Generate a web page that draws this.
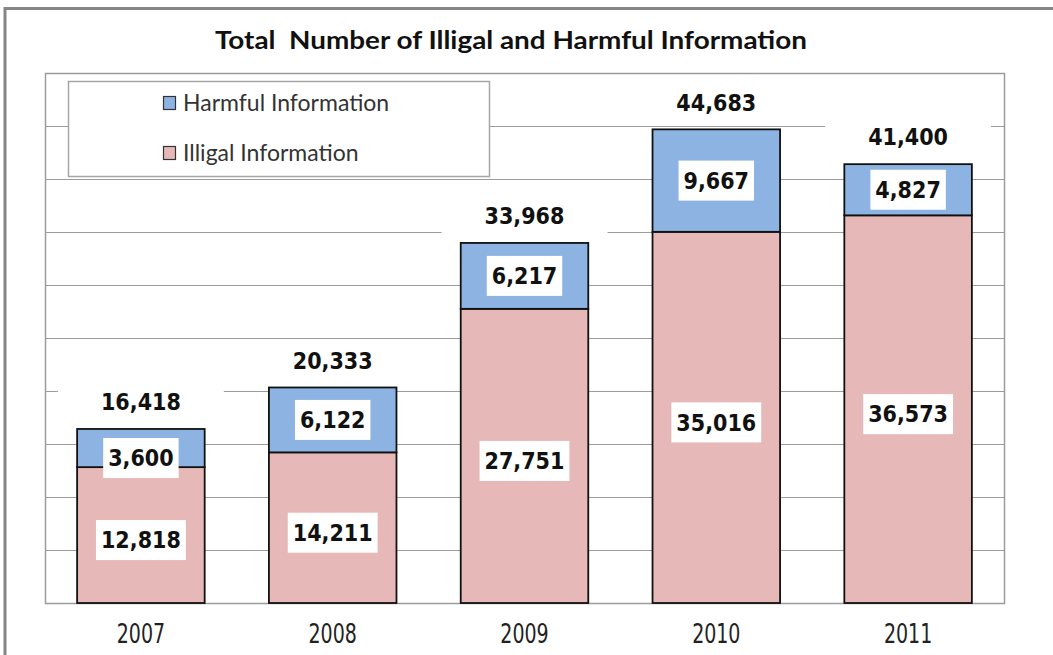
<!DOCTYPE html>
<html>
<head>
<meta charset="utf-8">
<script src="https://cdn.jsdelivr.net/npm/d3@7"></script>
<style>
  body { margin: 0; background: #fff; }
</style>
</head>
<body>
<div id="chart"></div>
<script>
const width = 1053;
const height = 655;

// values
const years = ["2007", "2008", "2009", "2010", "2011"];
const illegal = [12818, 14211, 27751, 35016, 36573];
const harmful = [3600, 6122, 6217, 9667, 4827];
const totals = [16418, 20333, 33968, 44683, 41400];
const seriesNames = ["Harmful Information", "Illigal Information"];
const seriesColors = ["#8db3e2", "#e6b9b8"];
const yTicks = [0, 5000, 10000, 15000, 20000, 25000, 30000, 35000, 40000, 45000, 50000];

const plot = { left: 45, right: 1004, top: 73, bottom: 603 };
const numFont = "'DejaVu Sans Condensed', 'DejaVu Sans', sans-serif";
const fmt = d3.format(",");

const svg = d3
  .select("#chart")
  .append("svg")
  .attr("width", width)
  .attr("height", height);

// outer frame, runs off the right and bottom edge
svg
  .append("rect")
  .attr("x", 5)
  .attr("y", 8.5)
  .attr("width", 1200)
  .attr("height", 800)
  .attr("fill", "none")
  .attr("stroke", "#858585")
  .attr("stroke-width", 3);

const xScale = d3
  .scaleBand()
  .domain(years)
  .range([plot.left, plot.right])
  .paddingInner(0.335)
  .paddingOuter(0.1675);

const yScale = d3
  .scaleLinear()
  .domain([0, 50000])
  .range([plot.bottom, plot.top]);

// gridlines
svg
  .append("g")
  .selectAll("line")
  .data(yTicks)
  .enter()
  .append("line")
  .attr("x1", plot.left)
  .attr("x2", plot.right)
  .attr("y1", d => Math.round(yScale(d)) + 0.5)
  .attr("y2", d => Math.round(yScale(d)) + 0.5)
  .attr("stroke", "#9c9c9c")
  .attr("stroke-width", 1.2);

// plot area sides
svg
  .append("rect")
  .attr("x", plot.left + 0.5)
  .attr("y", plot.top + 0.5)
  .attr("width", plot.right - plot.left)
  .attr("height", plot.bottom - plot.top)
  .attr("fill", "none")
  .attr("stroke", "#9c9c9c")
  .attr("stroke-width", 1.5);

// title
svg
  .append("text")
  .attr("x", 511)
  .attr("y", 49)
  .attr("text-anchor", "middle")
  .attr("font-family", "Lato, sans-serif")
  .attr("font-weight", "bold")
  .attr("font-size", 25)
  .attr("fill", "#111")
  .attr("textLength", 592)
  .attr("lengthAdjust", "spacingAndGlyphs")
  .style("white-space", "pre")
  .text("Total  Number of Illigal and Harmful Information");

// legend
const legend = svg.append("g");
legend
  .append("rect")
  .attr("x", 68.5)
  .attr("y", 81.5)
  .attr("width", 421)
  .attr("height", 95)
  .attr("fill", "#fff")
  .attr("stroke", "#a6a6a6")
  .attr("stroke-width", 1.5);

const legendItems = legend
  .selectAll("g")
  .data(seriesNames)
  .enter()
  .append("g")
  .attr("transform", (d, i) => `translate(163, ${96 + i * 50})`);

legendItems
  .append("rect")
  .attr("x", 0.5)
  .attr("y", 0.5)
  .attr("width", 12)
  .attr("height", 13)
  .attr("fill", (d, i) => seriesColors[i])
  .attr("stroke", "#333")
  .attr("stroke-width", 1.2);

legendItems
  .append("text")
  .attr("x", 20)
  .attr("y", 15)
  .attr("font-family", "Lato, sans-serif")
  .attr("font-size", 23)
  .attr("fill", "#333")
  .text(d => d);

// bars: illegal at bottom, harmful on top
const bars = svg
  .append("g")
  .selectAll("g")
  .data(years)
  .enter()
  .append("g");

bars
  .append("rect")
  .attr("x", d => xScale(d))
  .attr("y", (d, i) => yScale(illegal[i]))
  .attr("width", xScale.bandwidth())
  .attr("height", (d, i) => yScale(0) - yScale(illegal[i]))
  .attr("fill", seriesColors[1])
  .attr("stroke", "#111")
  .attr("stroke-width", 1.8);

bars
  .append("rect")
  .attr("x", d => xScale(d))
  .attr("y", (d, i) => yScale(totals[i]))
  .attr("width", xScale.bandwidth())
  .attr("height", (d, i) => yScale(illegal[i]) - yScale(totals[i]))
  .attr("fill", seriesColors[0])
  .attr("stroke", "#111")
  .attr("stroke-width", 1.8);

// white boxed label, box grows with the text
function addLabel(cx, cy, value, padX, boxH) {
  const g = svg.append("g");
  const box = g.append("rect").attr("fill", "#fff");
  const txt = g
    .append("text")
    .attr("x", cx)
    .attr("y", cy)
    .attr("dy", "0.36em")
    .attr("text-anchor", "middle")
    .attr("font-family", numFont)
    .attr("font-weight", "bold")
    .attr("font-size", 23)
    .attr("fill", "#111")
    .text(fmt(value));
  const w = txt.node().getComputedTextLength() + padX * 2;
  box
    .attr("x", cx - w / 2)
    .attr("y", cy - boxH / 2)
    .attr("width", w)
    .attr("height", boxH);
}

years.forEach((yr, i) => {
  const cx = xScale(yr) + xScale.bandwidth() / 2;
  // totals above the bars
  addLabel(cx, yScale(totals[i]) - 27, totals[i], 43, 40);
  // harmful in its segment, pushed down a bit when the segment is short
  const segH = yScale(illegal[i]) - yScale(totals[i]);
  const hy = (yScale(illegal[i]) + yScale(totals[i])) / 2 + (segH < 50 ? 10 : 0);
  addLabel(cx, hy, harmful[i], 5, 40);
  // illegal in its segment
  addLabel(cx, (yScale(0) + yScale(illegal[i])) / 2 + 5, illegal[i], 5, 40);
});

// year labels, squeezed a little to look like a narrow face
svg
  .append("g")
  .selectAll("text")
  .data(years)
  .enter()
  .append("text")
  .attr("transform", d => `translate(${xScale(d) + xScale.bandwidth() / 2}, 643) scale(0.88, 1.08)`)
  .attr("text-anchor", "middle")
  .attr("font-family", "'DejaVu Sans Condensed', sans-serif")
  .attr("font-size", 24)
  .attr("fill", "#222")
  .text(d => d);
</script>
</body>
</html>
